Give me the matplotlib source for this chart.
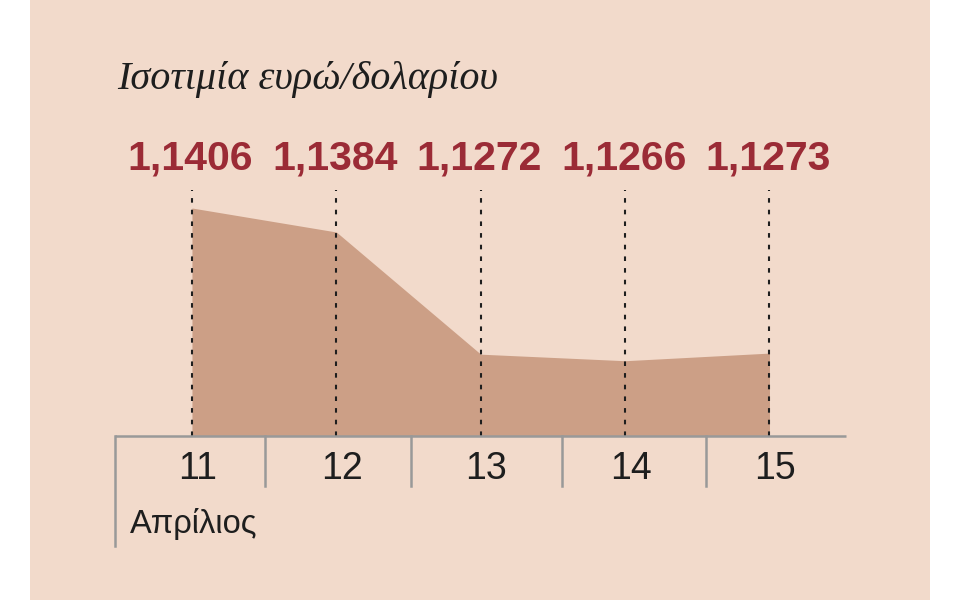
import matplotlib
matplotlib.use('Agg')
import matplotlib.pyplot as plt
from matplotlib.patches import Rectangle

# Data
days = [11, 12, 13, 14, 15]
rates = [1.1406, 1.1384, 1.1272, 1.1266, 1.1273]
rate_labels = ['1,1406', '1,1384', '1,1272', '1,1266', '1,1273']
day_labels = ['11', '12', '13', '14', '15']
month_label = 'Απρίλιος'
title = 'Ισοτιμία ευρώ/δολαρίου'

# Colours
bg = '#f2dacb'
fill = '#cc9f86'
red = '#9b2b36'
grey = '#999999'
dark = '#1e1e1e'

sans = ['Liberation Sans', 'DejaVu Sans']

fig = plt.figure(figsize=(9.6, 6), dpi=100, facecolor='white')
fig.patches.append(Rectangle((30 / 960, 0), 900 / 960, 1, transform=fig.transFigure,
                             facecolor=bg, edgecolor='none', zorder=-5))

# axes: baseline at pixel 436, top at pixel 120; x from 115 to 846 px
ax = fig.add_axes([115 / 960, (600 - 436) / 600, (846 - 115) / 960, (436 - 120) / 600])
ax.set_facecolor('none')
px_per_unit = 10909.0
ymin = 1.1197
ymax = ymin + (436 - 120) / px_per_unit
ax.set_xlim(10.467, 15.53)
ax.set_ylim(ymin, ymax)
for s in ax.spines.values():
    s.set_visible(False)
ax.set_xticks([])
ax.set_yticks([])

# area
ax.fill_between(days, rates, ymin, color=fill, linewidth=0, zorder=1)

# dashed guides
dash_top = ymin + (436 - 190) / px_per_unit
ax.vlines(days, ymin, dash_top, colors=dark, linestyles=(0, (2.2, 3.4)), linewidth=1.5, zorder=2)

# value labels
for d, lab in zip(days, rate_labels):
    ax.annotate(lab, (d, dash_top), xytext=(-1, 23), textcoords='offset points',
                ha='center', va='center', fontsize=29.5, fontweight='bold',
                color=red, family=sans, annotation_clip=False)

# baseline and dividers
ax.plot([10.467, 15.53], [ymin, ymin], color=grey, lw=1.8, clip_on=False, zorder=3,
        solid_capstyle='butt')
trans = ax.get_xaxis_transform()
ax.plot([10.467, 10.467], [0, -0.348], color=grey, lw=1.8, transform=trans, clip_on=False)
for xd in [11.505, 12.52, 13.56, 14.56]:
    ax.plot([xd, xd], [0, -0.158], color=grey, lw=1.8, transform=trans, clip_on=False)

# day labels
for d, lab in zip(days, day_labels):
    ax.text(d + 0.04, -0.104, lab, transform=trans, ha='center', va='center',
            fontsize=27, color=dark, family=sans)
ax.text(10.57, -0.28, month_label, transform=trans, ha='left', va='center',
        fontsize=23.5, color=dark, family=sans)

fig.text(117 / 960, 1 - 80 / 600, title, ha='left', va='center', fontsize=29,
         style='italic', color=dark, family=['Liberation Serif', 'DejaVu Serif'])

fig.savefig('out.png', dpi=100, facecolor='white')
